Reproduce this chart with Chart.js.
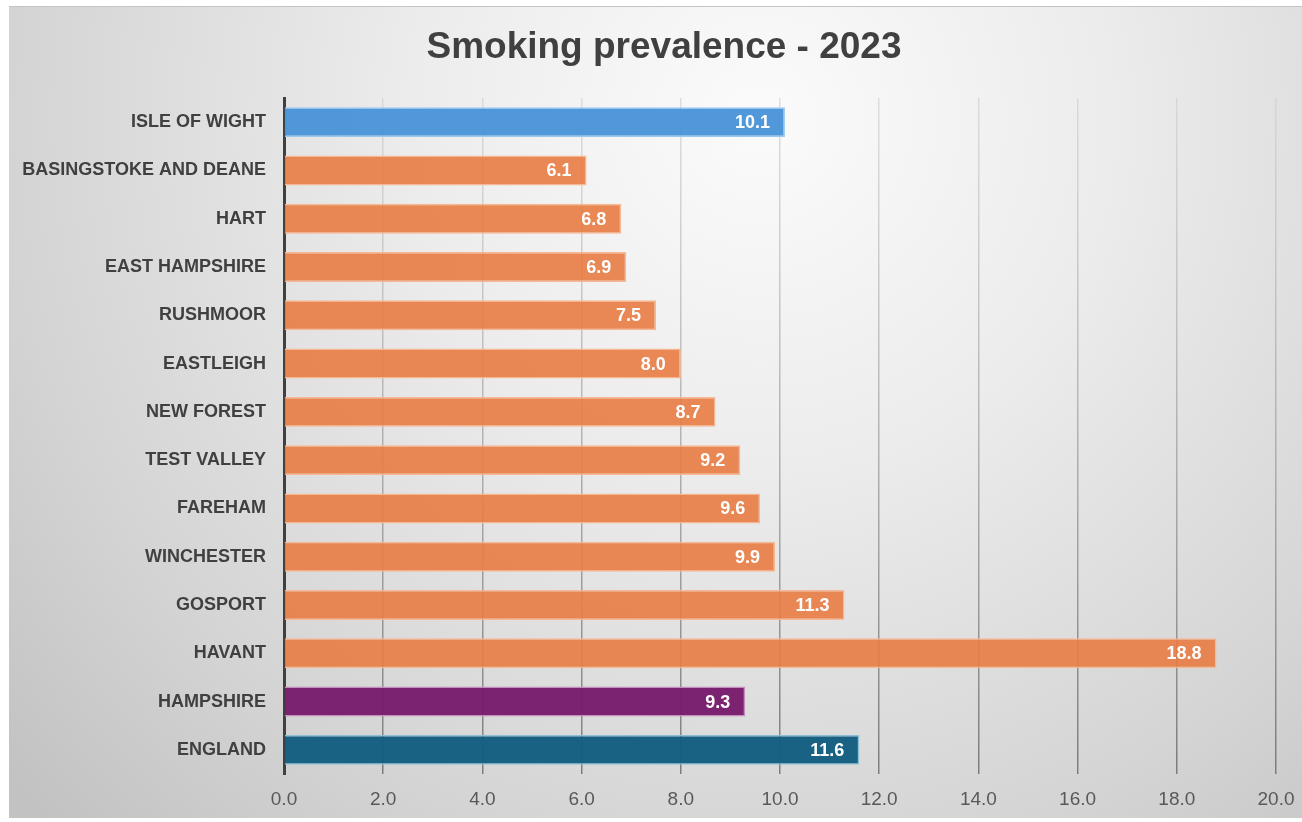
<!DOCTYPE html>
<html>
<head>
<meta charset="utf-8">
<script src="https://cdn.jsdelivr.net/npm/chart.js@4"></script>
<style>
  html, body { margin: 0; padding: 0; background: #ffffff; }
  #wrap { width: 1302px; height: 822px; }
</style>
</head>
<body>
<div id="wrap"><canvas id="grafico"></canvas></div>
<script>
// areas and smoking prevalence (%) for 2023
const areas = [
    "ISLE OF WIGHT", "BASINGSTOKE AND DEANE", "HART", "EAST HAMPSHIRE",
    "RUSHMOOR", "EASTLEIGH", "NEW FOREST", "TEST VALLEY", "FAREHAM",
    "WINCHESTER", "GOSPORT", "HAVANT", "HAMPSHIRE", "ENGLAND"
];
const prevalence = [10.1, 6.1, 6.8, 6.9, 7.5, 8.0, 8.7, 9.2, 9.6, 9.9, 11.3, 18.8, 9.3, 11.6];
const groups = ["iow", "district", "district", "district", "district", "district", "district",
    "district", "district", "district", "district", "district", "county", "national"];
const xTicks = [0, 2, 4, 6, 8, 10, 12, 14, 16, 18, 20];
const titulo = "Smoking prevalence - 2023";

const fuente = "'Liberation Sans', Arial, sans-serif";

const fillColours = {
    iow: "rgba(74, 148, 218, 0.96)",
    district: "rgba(232, 124, 66, 0.9)",
    county: "rgba(120, 28, 108, 0.97)",
    national: "rgba(20, 94, 128, 0.97)"
};
const edgeColours = {
    iow: "#9cc8ee",
    district: "#f6b893",
    county: "#c48cbc",
    national: "#8cc0d6"
};

// soft grey backdrop, brightest near the top centre, plus the heading
const fondo = {
    id: "fondo",
    beforeDraw(chart) {
        const ctx = chart.ctx;
        ctx.save();
        const g = ctx.createRadialGradient(760, 120, 0, 760, 120, 1000);
        g.addColorStop(0, "#fbfbfb");
        g.addColorStop(0.35, "#ececec");
        g.addColorStop(0.75, "#d4d4d4");
        g.addColorStop(1, "#c2c2c2");
        ctx.fillStyle = g;
        ctx.fillRect(9, 6, chart.width - 9, 812);
        ctx.strokeStyle = "#c4c4c4";
        ctx.lineWidth = 1;
        ctx.beginPath();
        ctx.moveTo(9, 6.5);
        ctx.lineTo(chart.width, 6.5);
        ctx.stroke();

        ctx.font = "bold 37px " + fuente;
        ctx.fillStyle = "#404040";
        ctx.textAlign = "center";
        ctx.textBaseline = "middle";
        ctx.fillText(titulo, 664, 48);
        ctx.restore();
    }
};

// value written inside the end of each bar
const etiquetas = {
    id: "etiquetas",
    afterDatasetsDraw(chart) {
        const ctx = chart.ctx;
        const meta = chart.getDatasetMeta(0);
        ctx.save();
        ctx.font = "bold 18px " + fuente;
        ctx.fillStyle = "#ffffff";
        ctx.textAlign = "right";
        ctx.textBaseline = "middle";
        meta.data.forEach((bar, i) => {
            ctx.fillText(prevalence[i].toFixed(1), bar.x - 15, bar.y + 1);
        });
        ctx.restore();
    }
};

function gridGradient(context) {
    const chart = context.chart;
    const area = chart.chartArea;
    if (!area) return "#bbbbbb";
    const g = chart.ctx.createLinearGradient(0, area.top, 0, area.bottom);
    g.addColorStop(0, "rgba(205, 205, 205, 0.6)");
    g.addColorStop(1, "rgba(120, 120, 120, 0.95)");
    return g;
}

new Chart(document.getElementById("grafico"), {
    type: "bar",
    data: {
        labels: areas,
        datasets: [{
            data: prevalence,
            backgroundColor: groups.map(g => fillColours[g]),
            borderColor: groups.map(g => edgeColours[g]),
            borderWidth: 1.5,
            borderSkipped: "start",
            barPercentage: 0.62,
            categoryPercentage: 1
        }]
    },
    options: {
        indexAxis: "y",
        responsive: true,
        maintainAspectRatio: false,
        animation: false,
        layout: {
            padding: { left: 9, right: 26, top: 98, bottom: 0 }
        },
        plugins: {
            legend: { display: false },
            tooltip: { enabled: false },
            title: { display: false }
        },
        scales: {
            x: {
                min: 0,
                max: 20,
                afterBuildTicks: scale => {
                    scale.ticks = xTicks.map(v => ({ value: v }));
                },
                afterFit: scale => {
                    scale.height = 48;
                    scale.paddingLeft = 0;
                    scale.paddingRight = 0;
                },
                ticks: {
                    color: "#595959",
                    padding: 14,
                    font: { family: fuente, size: 19 },
                    callback: v => Number(v).toFixed(1)
                },
                grid: {
                    color: gridGradient,
                    lineWidth: 1.5,
                    drawTicks: false
                },
                border: { display: false }
            },
            y: {
                afterFit: scale => { scale.width = 275; },
                ticks: {
                    color: "#404040",
                    padding: 18,
                    font: { family: fuente, size: 18, weight: "bold" }
                },
                grid: { display: false, drawTicks: false },
                border: { display: true, color: "#404040", width: 3 }
            }
        }
    },
    plugins: [fondo, etiquetas]
});
</script>
</body>
</html>
